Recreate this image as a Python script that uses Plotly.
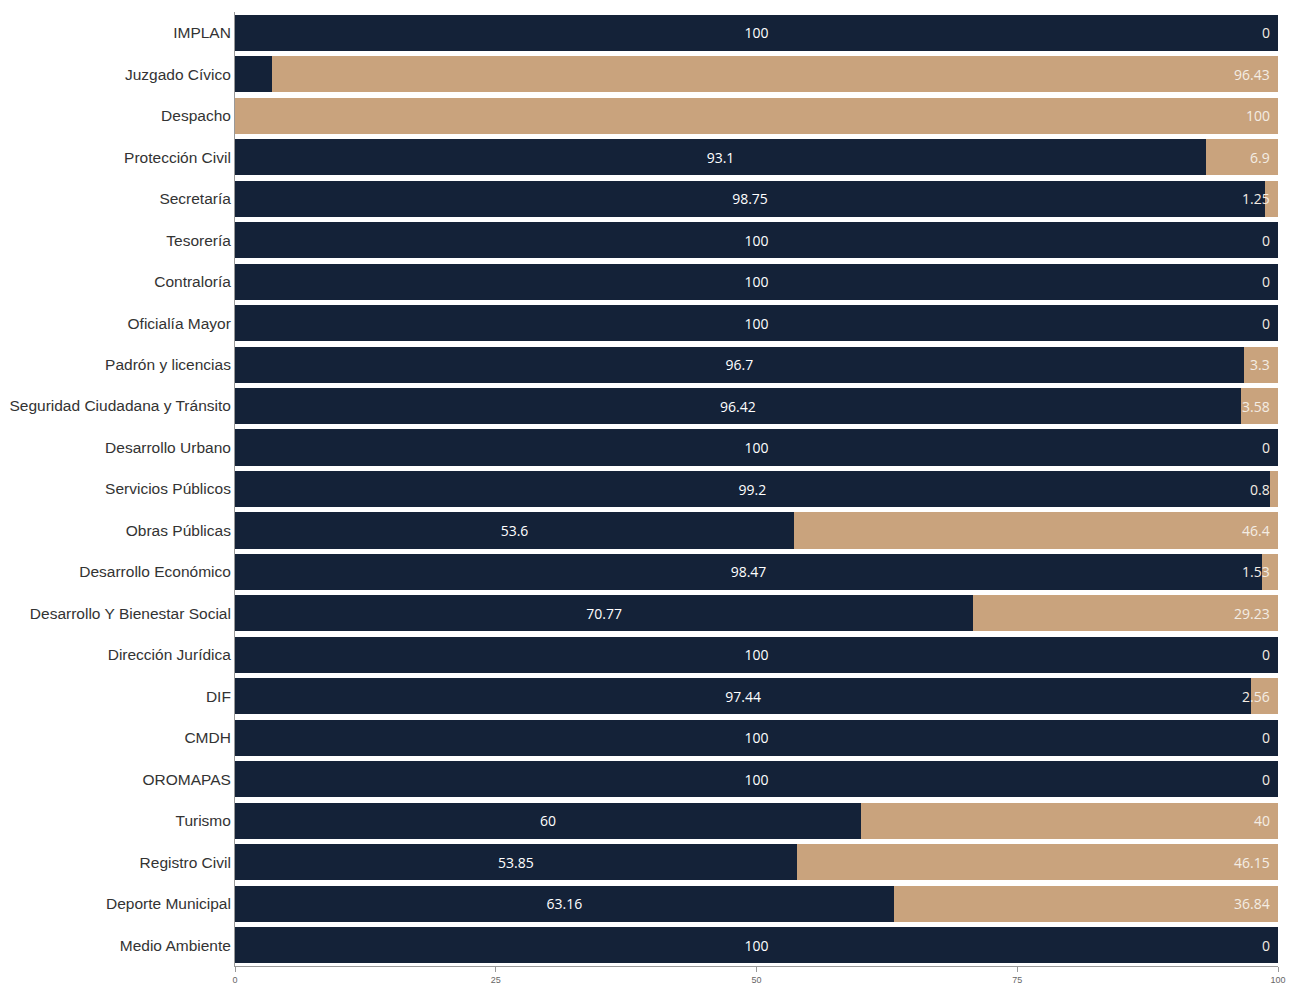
import plotly.graph_objects as go

categories = ["IMPLAN", "Juzgado Cívico", "Despacho", "Protección Civil", "Secretaría",
              "Tesorería", "Contraloría", "Oficialía Mayor", "Padrón y licencias",
              "Seguridad Ciudadana y Tránsito", "Desarrollo Urbano", "Servicios Públicos",
              "Obras Públicas", "Desarrollo Económico", "Desarrollo Y Bienestar Social",
              "Dirección Jurídica", "DIF", "CMDH", "OROMAPAS", "Turismo", "Registro Civil",
              "Deporte Municipal", "Medio Ambiente"]
dark_values = [100, 3.57, 0, 93.1, 98.75, 100, 100, 100, 96.7, 96.42, 100, 99.2,
               53.6, 98.47, 70.77, 100, 97.44, 100, 100, 60, 53.85, 63.16, 100]
tan_values = [0, 96.43, 100, 6.9, 1.25, 0, 0, 0, 3.3, 3.58, 0, 0.8,
              46.4, 1.53, 29.23, 0, 2.56, 0, 0, 40, 46.15, 36.84, 0]
x_ticks = [0, 25, 50, 75, 100]

DARK = "#142238"
TAN = "#c9a37d"

dark_text = [str(v) if v >= 10 else "" for v in dark_values]
totals = [d + t for d, t in zip(dark_values, tan_values)]

fig = go.Figure()
fig.add_trace(go.Bar(
    y=categories, x=dark_values, orientation="h", marker=dict(color=DARK, line=dict(width=0)),
    text=dark_text, textposition="inside", insidetextanchor="middle",
    textfont=dict(family="Open Sans", size=14, color="#ffffff"), name="A",
))
fig.add_trace(go.Bar(
    y=categories, x=tan_values, orientation="h", marker=dict(color=TAN, line=dict(width=0)),
    name="B", textposition="none",
))

for cat, tot, tv in zip(categories, totals, tan_values):
    fig.add_annotation(
        x=tot, y=cat, xref="x", yref="y", text=str(tv), showarrow=False,
        xanchor="right", yanchor="middle", xshift=-6,
        font=dict(family="Open Sans", size=14, color="#f4ede4"),
    )

fig.update_layout(
    barmode="stack", bargap=0.13, showlegend=False,
    width=1282, height=986,
    margin=dict(l=227, r=8, t=4, b=28),
    paper_bgcolor="white", plot_bgcolor="white",
    uniformtext=dict(minsize=10, mode="hide"),
)
fig.update_yaxes(
    categoryorder="array", categoryarray=categories,
    range=[len(categories) - 0.5, -0.5],
    tickfont=dict(family="Liberation Sans", size=15.5, color="#333333"),
    showline=True, linecolor="#999999", linewidth=1, ticks="", ticklen=0, showgrid=False,
    automargin=False,
)
fig.update_xaxes(
    range=[0, 100], tickvals=x_ticks, ticktext=[str(v) for v in x_ticks],
    tickfont=dict(family="Liberation Sans", size=9, color="#666666"),
    showline=True, linecolor="#999999", linewidth=1, ticks="outside", ticklen=5,
    tickcolor="#999999", showgrid=False, zeroline=False, ticklabeloverflow="allow",
)

fig.write_html("out.html")
